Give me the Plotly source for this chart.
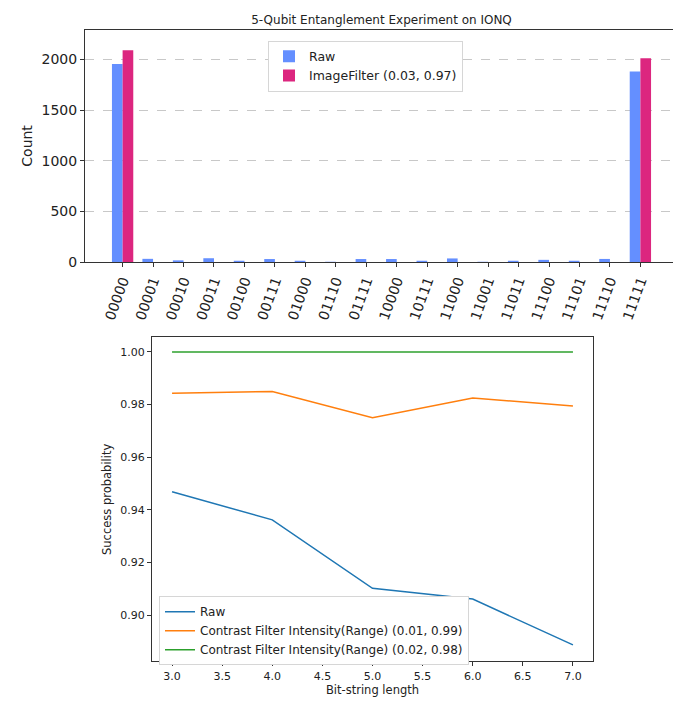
import plotly.graph_objects as go

# ---------------- data ----------------
bitstrings = ["00000", "00001", "00010", "00011", "00100", "00111", "01000", "01110",
              "01111", "10000", "10111", "11000", "11001", "11011", "11100", "11101",
              "11110", "11111"]
raw_counts = [1954, 32, 17, 38, 11, 30, 11, 2, 30, 30, 9, 36, 2, 10, 22, 10, 31, 1880]
filter_counts = [2090, 0, 0, 0, 0, 0, 0, 0, 0, 0, 0, 0, 0, 0, 0, 0, 0, 2012]

lengths = [3, 4, 5, 6, 7]
raw_prob = [0.9469, 0.9362, 0.9102, 0.9061, 0.8887]
cf1_prob = [0.9843, 0.9850, 0.9750, 0.9825, 0.9795]
cf2_prob = [1.0, 1.0, 1.0, 1.0, 1.0]

W, H = 681, 704
FONT = "DejaVu Sans"
AX = "#333333"


def dom_x(a, b):
    return [a / W, b / W]


def dom_y(top, bottom):
    return [1 - bottom / H, 1 - top / H]


fig = go.Figure()
fig.add_trace(go.Bar(x=bitstrings, y=raw_counts, name="Raw", marker_color="#648FFF",
                     marker_line_width=0, xaxis="x", yaxis="y", legend="legend"))
fig.add_trace(go.Bar(x=bitstrings, y=filter_counts, name="ImageFilter (0.03, 0.97)",
                     marker_color="#DC267F", marker_line_width=0, xaxis="x", yaxis="y",
                     legend="legend"))

for name, ys, color in [("Raw", raw_prob, "#1f77b4"),
                        ("Contrast Filter Intensity(Range) (0.01, 0.99)", cf1_prob, "#ff7f0e"),
                        ("Contrast Filter Intensity(Range) (0.02, 0.98)", cf2_prob, "#2ca02c")]:
    fig.add_trace(go.Scatter(x=lengths, y=ys, name=name, mode="lines",
                             line=dict(color=color, width=1.5),
                             xaxis="x2", yaxis="y2", legend="legend2"))

axis_common = dict(showline=True, mirror=True, linecolor=AX, linewidth=1,
                   ticks="outside", ticklen=4, tickcolor=AX, zeroline=False)

fig.update_layout(
    width=W, height=H,
    margin=dict(l=0, r=0, t=0, b=0),
    paper_bgcolor="white", plot_bgcolor="white",
    font=dict(family=FONT, color="#222222"),
    barmode="group", bargap=0.3, bargroupgap=0,
    title=dict(text="5-Qubit Entanglement Experiment on IONQ", x=373.5 / W, xanchor="center",
               y=1 - 12 / H, yanchor="middle", font=dict(size=12, family=FONT)),
    xaxis=dict(domain=dom_x(77, 670), anchor="y", type="category",
               range=[-1.235, 18.235], tickangle=-70, tickfont=dict(size=14),
               showgrid=False, **axis_common),
    yaxis=dict(domain=dom_y(22, 257), anchor="x", range=[0, 2293],
               tickvals=[0, 500, 1000, 1500, 2000], tickfont=dict(size=14),
               showgrid=True, gridcolor="#c8c8c8", griddash="dash", gridwidth=0.8,
               title=dict(text="Count", font=dict(size=14), standoff=5),
               **axis_common),
    xaxis2=dict(domain=dom_x(144, 585), anchor="y2", range=[2.8, 7.2],
                tickvals=[3, 3.5, 4, 4.5, 5, 5.5, 6, 6.5, 7], tickformat=".1f",
                tickfont=dict(size=11), showgrid=False,
                title=dict(text="Bit-string length", font=dict(size=11.5), standoff=4),
                **axis_common),
    yaxis2=dict(domain=dom_y(333, 661), anchor="x2", range=[0.8824, 1.0056],
                tickvals=[0.90, 0.92, 0.94, 0.96, 0.98, 1.00], tickformat=".2f",
                tickfont=dict(size=11), showgrid=False,
                title=dict(text="Success probability", font=dict(size=11.5), standoff=6),
                **axis_common),
    legend=dict(x=260 / W, y=1 - 33 / H, xanchor="left", yanchor="top",
                bgcolor="white", bordercolor="#d6d6d6", borderwidth=1,
                font=dict(size=12.5), itemwidth=30, tracegroupgap=0),
    legend2=dict(x=151 / W, y=1 - 595 / H, xanchor="left", yanchor="top",
                 bgcolor="white", bordercolor="#d6d6d6", borderwidth=1,
                 font=dict(size=12), itemwidth=30, tracegroupgap=0),
)

fig.write_html("out.html")
